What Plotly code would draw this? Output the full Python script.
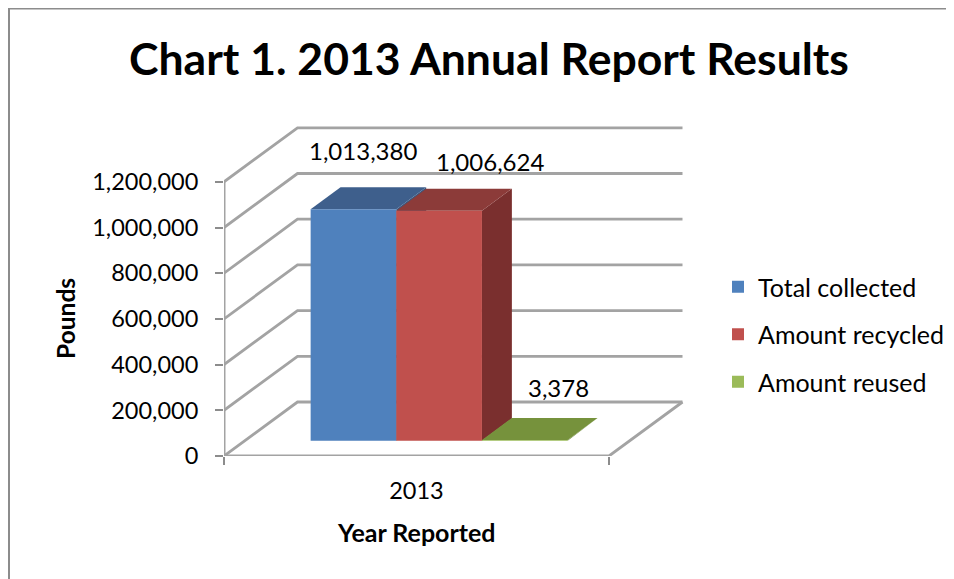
import plotly.graph_objects as go

# ---- data ----
categories = ["2013"]
series_names = ["Total collected", "Amount recycled", "Amount reused"]
series_values = [1013380, 1006624, 3378]
y_ticks = [0, 200000, 400000, 600000, 800000, 1000000, 1200000]

# ---- styles ----
front_colors = ["#4F81BD", "#C0504D", "#9BBB59"]
top_colors = ["#3E5F8C", "#8C3B39", "#76923C"]
side_colors = ["#3A587F", "#7A2F2E", "#6A8435"]
GRID = "#A3A3A3"
TICK = "#8C8C8C"
FONT = "Lato"
PAGE = 8                             # the page's own body margin
W, H = 954 - PAGE, 579 - PAGE
L, R, T, B = 224 - PAGE, 690 - PAGE, 120 - PAGE, 456 - PAGE   # plot box in figure pixels
X_UNIT = 385.0                       # px for category span
Y_UNIT = 45.7 / 200000               # px per pound
DEPTH_X = 73.5 / X_UNIT
DEPTH_Y = 54 / Y_UNIT
BAR_START, BAR_W = 0.171, 0.2225
D0, D1 = 0.283, 0.69
label_shift = [(-20, 37), (21, 27), (4, 30)]


def project(x, v, d):
    return x + d * DEPTH_X, v + d * DEPTH_Y


def poly(points, color, **kw):
    xs, ys = zip(*[project(*p) for p in points])
    return go.Scatter(x=list(xs), y=list(ys), mode="lines", fill="toself", fillcolor=color,
                      line=dict(width=0, color=color), hoverinfo="skip", showlegend=False,
                      cliponaxis=False, **kw)


def line(points, width=2.8):
    xs, ys = zip(*[project(*p) for p in points])
    return go.Scatter(x=list(xs), y=list(ys), mode="lines", line=dict(color=GRID, width=width),
                      hoverinfo="skip", showlegend=False, cliponaxis=False)


fig = go.Figure()

# walls and floor
for v in y_ticks:
    fig.add_trace(line([(0, v, 0), (0, v, 1), (1.0, v, 1)]))
fig.add_trace(line([(0, y_ticks[0], 0), (1, y_ticks[0], 0), (1, y_ticks[0], 1)]))
fig.add_trace(line([(0, y_ticks[0], 0), (0, y_ticks[-1], 0)], width=3))

# bars
for i, val in enumerate(series_values):
    x0 = BAR_START + i * BAR_W
    x1 = x0 + BAR_W
    fig.add_trace(poly([(x1, 0, D0), (x1, 0, D1), (x1, val, D1), (x1, val, D0)], side_colors[i]))
    fig.add_trace(poly([(x0, val, D0), (x1, val, D0), (x1, val, D1), (x0, val, D1)], top_colors[i]))
    fig.add_trace(poly([(x0, 0, D0), (x1, 0, D0), (x1, val, D0), (x0, val, D0)], front_colors[i]))

# legend entries
for name, color in zip(series_names, front_colors):
    fig.add_trace(go.Scatter(x=[None], y=[None], mode="markers", name=name, legendgroup=name,
                             marker=dict(symbol="square", size=16, color=color)))

# value labels
annotations = []
for i, val in enumerate(series_values):
    x_mid = BAR_START + (i + 0.5) * BAR_W
    ax, ay = project(x_mid, val, D1)
    annotations.append(dict(x=ax, y=ay, xref="x", yref="y", text=f"{val:,}", showarrow=False,
                            xshift=label_shift[i][0], yshift=label_shift[i][1],
                            font=dict(family=FONT, size=24, color="#000000")))

to_px = lambda p: (p - PAGE - L) / (R - L)
to_py = lambda p: (B - (p - PAGE)) / (B - T)

# axis titles, centred on the axes' real spans
annotations.append(dict(x=0.5, xref="x", y=to_py(532), yref="paper", yanchor="middle",
                        text="<b>Year Reported</b>", showarrow=False,
                        font=dict(family=FONT, size=25, color="#000000")))
annotations.append(dict(x=to_px(66), xref="paper", xanchor="center", y=y_ticks[3], yref="y",
                        yanchor="middle", text="<b>Pounds</b>", textangle=-90, showarrow=False,
                        font=dict(family=FONT, size=24.5, color="#000000")))

shapes = [
    dict(type="line", xref="paper", yref="paper", x0=to_px(9), x1=to_px(9), y0=to_py(8), y1=to_py(579),
         line=dict(color=TICK, width=2)),
    dict(type="line", xref="paper", yref="paper", x0=to_px(8), x1=to_px(954), y0=to_py(8.5), y1=to_py(8.5),
         line=dict(color=TICK, width=2)),
]

fig.update_layout(
    width=W, height=H, autosize=False,
    margin=dict(l=L, r=W - R, t=T, b=H - B, autoexpand=False),
    paper_bgcolor="white", plot_bgcolor="white",
    font=dict(family=FONT, color="#000000"),
    title=dict(text="<b>Chart 1. 2013 Annual Report Results</b>", x=(489 - PAGE) / W, xanchor="center",
               y=1 - (59 - PAGE) / H, yanchor="middle", font=dict(family=FONT, size=44.5, color="#000000")),
    xaxis=dict(range=[0, (R - L) / X_UNIT], showgrid=False, zeroline=False, showline=False,
               tickmode="array", tickvals=[0.5], ticktext=categories, ticks="outside", ticklen=14,
               tickwidth=0, tickcolor="white", tickfont=dict(family=FONT, size=23.5),
               minor=dict(tickmode="array", tickvals=[0, 1], ticks="outside", ticklen=8, tickwidth=2,
                          tickcolor=TICK, showgrid=False)),
    yaxis=dict(range=[0, (B - T) / Y_UNIT], showgrid=False, zeroline=False, showline=False,
               tickmode="array", tickvals=y_ticks, tickformat=",d", ticks="outside", ticklen=8,
               tickwidth=2, tickcolor=TICK, ticklabelstandoff=12, tickfont=dict(family=FONT, size=23.5)),
    legend=dict(x=to_px(718), y=to_py(264), xanchor="left", yanchor="top", tracegroupgap=12,
                font=dict(family=FONT, size=25), bgcolor="rgba(0,0,0,0)", itemsizing="constant"),
    annotations=annotations, shapes=shapes, hovermode=False,
)

fig.write_html("out.html")
